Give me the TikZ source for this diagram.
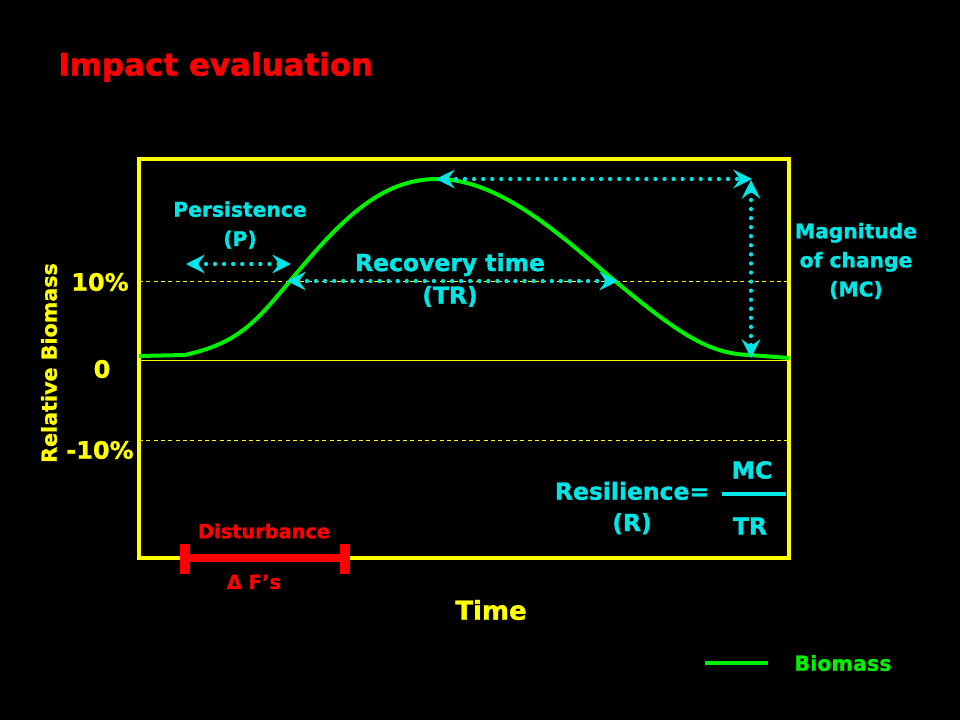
\documentclass[tikz,border=0pt]{standalone}
\usepackage{fontspec}
\setmainfont{DejaVu Sans}[BoldFeatures={FakeBold=1.2}]
\usetikzlibrary{arrows.meta}
\definecolor{ylw}{RGB}{255,255,0}
\definecolor{cyn}{RGB}{0,230,230}
\definecolor{grn}{RGB}{0,240,0}
\definecolor{rd}{RGB}{255,0,0}
\tikzset{
  every node/.style={font=\bfseries, inner sep=0pt, align=center},
  dotarrow/.style={cyn, line width=3.2pt, dash pattern=on 0pt off 6.8pt, line cap=round,
    {Stealth[length=14pt,width=14pt,inset=5pt]}-{Stealth[length=14pt,width=14pt,inset=5pt]}},
  guide/.style={ylw, line width=0.6pt, dash pattern=on 3pt off 2.5pt},
  curve/.style={grn, line width=3pt},
}
\begin{document}
\begin{tikzpicture}[x=0.75pt,y=-0.75pt]
\fill[black] (0,0) rectangle (960,720);
\useasboundingbox (0,0) rectangle (960,720);

\node[rd, font=\bfseries\fontsize{23.2}{27}\selectfont, anchor=west] (title) at (58,67) {Impact evaluation};

% guide lines
\draw[guide] (139,281) -- (789,281);
\draw[ylw, line width=0.6pt] (139,360) -- (789,360);
\draw[guide] (139,440) -- (789,440);

% box
\draw[ylw, line width=3pt] (139,159) rectangle (789,558);

% axis labels
\node[ylw, font=\bfseries\fontsize{18}{20}\selectfont] (p10) at (100,282) {10\%};
\node[ylw, font=\bfseries\fontsize{18}{20}\selectfont] (zero) at (102,369) {0};
\node[ylw, font=\bfseries\fontsize{18}{20}\selectfont] (m10) at (100,450) {-10\%};
\node[ylw, rotate=90, font=\bfseries\fontsize{15.5}{18}\selectfont] (ylab) at (49,363) {Relative Biomass};
\node[ylw, font=\bfseries\fontsize{19.5}{22}\selectfont] (xlab) at (491,610) {Time};

% curve
\draw[curve] (139,356) -- (185,355)
  .. controls (238,343) and (255,323) .. (290,281)
  .. controls (340,221) and (380,179) .. (437,179)
  .. controls (500,179) and (560,235) .. (615,281)
  .. controls (680,335) and (710,354) .. (750,355) -- (789,358);

% arrow coordinates
\coordinate (pA) at (186,264);
\coordinate (pB) at (291,264);
\coordinate (rA) at (287,281);
\coordinate (rB) at (618,281);
\coordinate (tA) at (436,179);
\coordinate (tB) at (752,179);
\coordinate (vA) at (751,180);
\coordinate (vB) at (751,358);
\draw[dotarrow] (pA) -- (pB);
\draw[dotarrow] (rA) -- (rB);
\draw[dotarrow] (tA) -- (tB);
\draw[dotarrow] (vA) -- (vB);

% cyan texts
\node[cyn, font=\bfseries\fontsize{15.2}{22}\selectfont] (pers) at (240,225) {Persistence\\(P)};
\node[cyn, font=\bfseries\fontsize{17.6}{24.5}\selectfont] (rec) at (450,280) {Recovery time\\(TR)};
\node[cyn, font=\bfseries\fontsize{15.2}{21.8}\selectfont] (mag) at (856,261) {Magnitude\\of change\\(MC)};
\node[cyn, font=\bfseries\fontsize{17.6}{23.5}\selectfont] (res) at (632,508) {Resilience=\\(R)};
\node[cyn, font=\bfseries\fontsize{17.6}{20}\selectfont] (mc) at (752,470) {MC};
\node[cyn, font=\bfseries\fontsize{17.6}{20}\selectfont] (tr) at (750,526) {TR};
\coordinate (fA) at (722,494);
\coordinate (fB) at (786,494);
\draw[cyn, line width=2.4pt] (fA) -- (fB);

% disturbance
\coordinate (dA) at (185,558);
\coordinate (dB) at (345,558);
\draw[rd, line width=6pt] (dA) -- (dB);
\fill[rd] (180,544) rectangle (190,574);
\fill[rd] (340,544) rectangle (350,574);
\node[rd, font=\bfseries\fontsize{14.5}{17}\selectfont] (dist) at (264,531) {Disturbance};
\node[rd, font=\bfseries\fontsize{14.5}{17}\selectfont] (dF) at (254,582) {Δ F’s};

% legend
\coordinate (lA) at (705,663);
\coordinate (lB) at (768,663);
\draw[curve] (lA) -- (lB);
\node[grn, font=\bfseries\fontsize{15.5}{18}\selectfont] (leg) at (843,663) {Biomass};
\end{tikzpicture}
\end{document}
